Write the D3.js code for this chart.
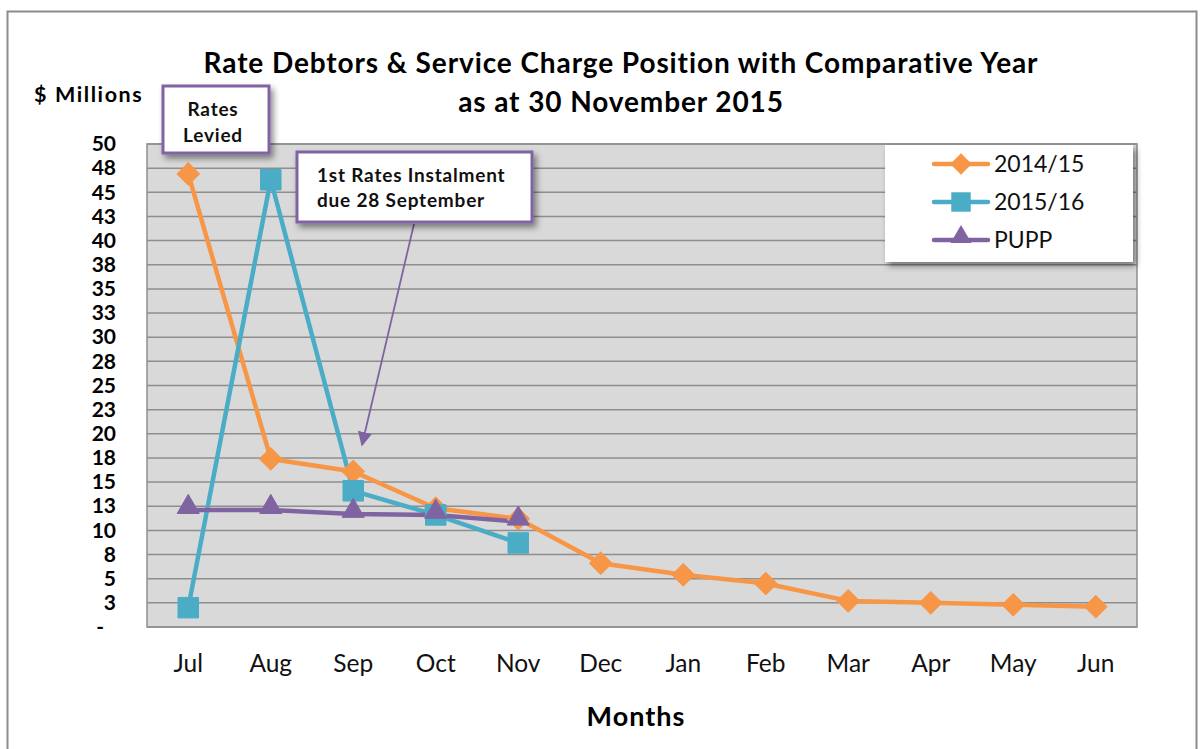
<!DOCTYPE html>
<html><head><meta charset="utf-8">
<script src="https://cdn.jsdelivr.net/npm/d3@7"></script>
<style>body{margin:0;background:#fff;font-family:Lato,"Open Sans",sans-serif;}</style>
</head><body><svg id="c" width="1200" height="749"></svg>
<script>
const months = ["Jul","Aug","Sep","Oct","Nov","Dec","Jan","Feb","Mar","Apr","May","Jun"];
const s2014 = [46.9,17.4,16.1,12.3,11.2,6.6,5.4,4.5,2.7,2.5,2.3,2.1];
const s2015 = [2.0,46.3,14.1,11.6,8.7];
const pupp = [12.1,12.1,11.7,11.6,10.9];
const yTicks = [0,2.5,5,7.5,10,12.5,15,17.5,20,22.5,25,27.5,30,32.5,35,37.5,40,42.5,45,47.5,50];
const seriesNames = ["2014/15","2015/16","PUPP"];
const colors = ["#F79646","#4BACC6","#8064A2"];

const svg = d3.select("#c");
const defs = svg.append("defs");
const f = defs.append("filter").attr("id","sh").attr("x","-10%").attr("y","-10%").attr("width","130%").attr("height","140%");
f.append("feDropShadow").attr("dx",3).attr("dy",4).attr("stdDeviation",3).attr("flood-color","#000").attr("flood-opacity",0.45);
defs.append("marker").attr("id","arr").attr("viewBox","0 0 10 10").attr("refX",9).attr("refY",5)
  .attr("markerWidth",8).attr("markerHeight",8).attr("orient","auto-start-reverse")
  .append("path").attr("d","M0,0L10,5L0,10z").attr("fill","#8064A2");

// outer frame
svg.append("rect").attr("x",7.5).attr("y",11.5).attr("width",1189).attr("height",760).attr("fill","#fff").attr("stroke","#8c8c8c").attr("stroke-width",2);

const L=147,R=1137,T=144,B=627;
const x = d3.scaleBand().domain(months).range([L,R]);
const y = d3.scaleLinear().domain([0,50]).range([B,T]);
const cx = d => x(d)+x.bandwidth()/2;

svg.append("rect").attr("x",L).attr("y",T).attr("width",R-L).attr("height",B-T).attr("fill","#d9d9d9");
svg.append("g").selectAll("line").data(yTicks).join("line")
  .attr("x1",L).attr("x2",R).attr("y1",d=>y(d)).attr("y2",d=>y(d))
  .attr("stroke","#8e8e8e").attr("stroke-width",1.5);
svg.append("rect").attr("x",L).attr("y",T).attr("width",R-L).attr("height",B-T).attr("fill","none").attr("stroke","#8e8e8e").attr("stroke-width",1.5);

// y axis
const fmt = d => d===0 ? "-" : String(Math.round(d+0.001));
const ya = svg.append("g").attr("transform",`translate(${L-31},0)`)
  .call(d3.axisLeft(y).tickValues(yTicks).tickFormat(fmt).tickSize(0).tickPadding(0));
ya.select(".domain").remove();
ya.selectAll("text").attr("font-family","Lato,sans-serif").attr("font-weight","bold").attr("font-size",21).attr("fill","#000")
  .attr("dx",d=>d===0?-12:0);

// x axis
const xa = svg.append("g").attr("transform",`translate(0,${B+28})`)
  .call(d3.axisBottom(x).tickSize(0).tickPadding(0));
xa.select(".domain").remove();
xa.selectAll("text").attr("font-family","Lato,sans-serif").attr("font-size",24.5).attr("fill","#111");

// titles
const t = svg.append("text").attr("text-anchor","middle").attr("font-family","Lato,sans-serif").attr("font-weight","bold").attr("font-size",28).attr("letter-spacing",0.9).attr("fill","#000");
t.append("tspan").attr("x",621).attr("y",73).text("Rate Debtors & Service Charge Position with Comparative Year");
t.append("tspan").attr("x",621).attr("y",112).text("as at 30 November 2015");
svg.append("text").attr("x",34).attr("y",102).attr("font-family","Lato,sans-serif").attr("font-weight","bold").attr("font-size",21.5).attr("letter-spacing",1.6).text("$ Millions");
svg.append("text").attr("x",636).attr("y",726).attr("text-anchor","middle").attr("font-family","Lato,sans-serif").attr("font-weight","bold").attr("font-size",27).attr("letter-spacing",1).text("Months");

// series
const data = [s2014,s2015,pupp];
const line = d3.line().x((d,i)=>cx(months[i])).y(d=>y(d));
const sym = [d3.symbolDiamond2, d3.symbolSquare, d3.symbolTriangle2];
const symSize = [330,420,350];
const symDy = [0,0,-3];
data.forEach((vals,k)=>{
  svg.append("path").attr("d",line(vals)).attr("fill","none").attr("stroke",colors[k]).attr("stroke-width",4.5).attr("stroke-linejoin","round");
});
data.forEach((vals,k)=>{
  svg.append("g").selectAll("path").data(vals).join("path")
    .attr("transform",(d,i)=>`translate(${cx(months[i])},${y(d)+symDy[k]})`)
    .attr("d",d3.symbol().type(sym[k]).size(symSize[k]))
    .attr("fill",colors[k]).attr("stroke",colors[k]).attr("stroke-width",1);
});

// legend
const lg = svg.append("g");
lg.append("rect").attr("x",885).attr("y",145).attr("width",248).attr("height",117).attr("fill","#fff").attr("filter","url(#sh)");
seriesNames.forEach((n,k)=>{
  const yy = 164 + k*38;
  lg.append("line").attr("x1",934).attr("x2",988).attr("y1",yy).attr("y2",yy).attr("stroke",colors[k]).attr("stroke-width",4.5).attr("stroke-linecap","round");
  lg.append("path").attr("transform",`translate(961,${yy+symDy[k]})`).attr("d",d3.symbol().type(sym[k]).size(symSize[k]*0.9)).attr("fill",colors[k]);
  lg.append("text").attr("x",994).attr("y",yy+8).attr("font-family","Lato,sans-serif").attr("font-size",23).attr("fill","#111").text(n);
});

// annotations
function box(x0,y0,w,h,lines,anchor,tx,ty,lh){
  const g = svg.append("g");
  g.append("rect").attr("x",x0).attr("y",y0).attr("width",w).attr("height",h).attr("fill","#fff").attr("stroke","#8064A2").attr("stroke-width",3).attr("filter","url(#sh)");
  const te = g.append("text").attr("text-anchor",anchor).attr("font-family","Lato,sans-serif").attr("font-weight","bold").attr("font-size",19).attr("letter-spacing",0.8).attr("fill","#111");
  lines.forEach((l,i)=>te.append("tspan").attr("x",tx).attr("y",ty+i*lh).text(l));
}
svg.append("line").attr("x1",414).attr("y1",224).attr("x2",362).attr("y2",445).attr("stroke","#8064A2").attr("stroke-width",1.8).attr("marker-end","url(#arr)");
box(163,86,106,67,["Rates","Levied"],"middle",213,116,26);
box(297,152,235,70,["1st Rates Instalment","due 28 September"],"start",317,182,25);
</script></body></html>
